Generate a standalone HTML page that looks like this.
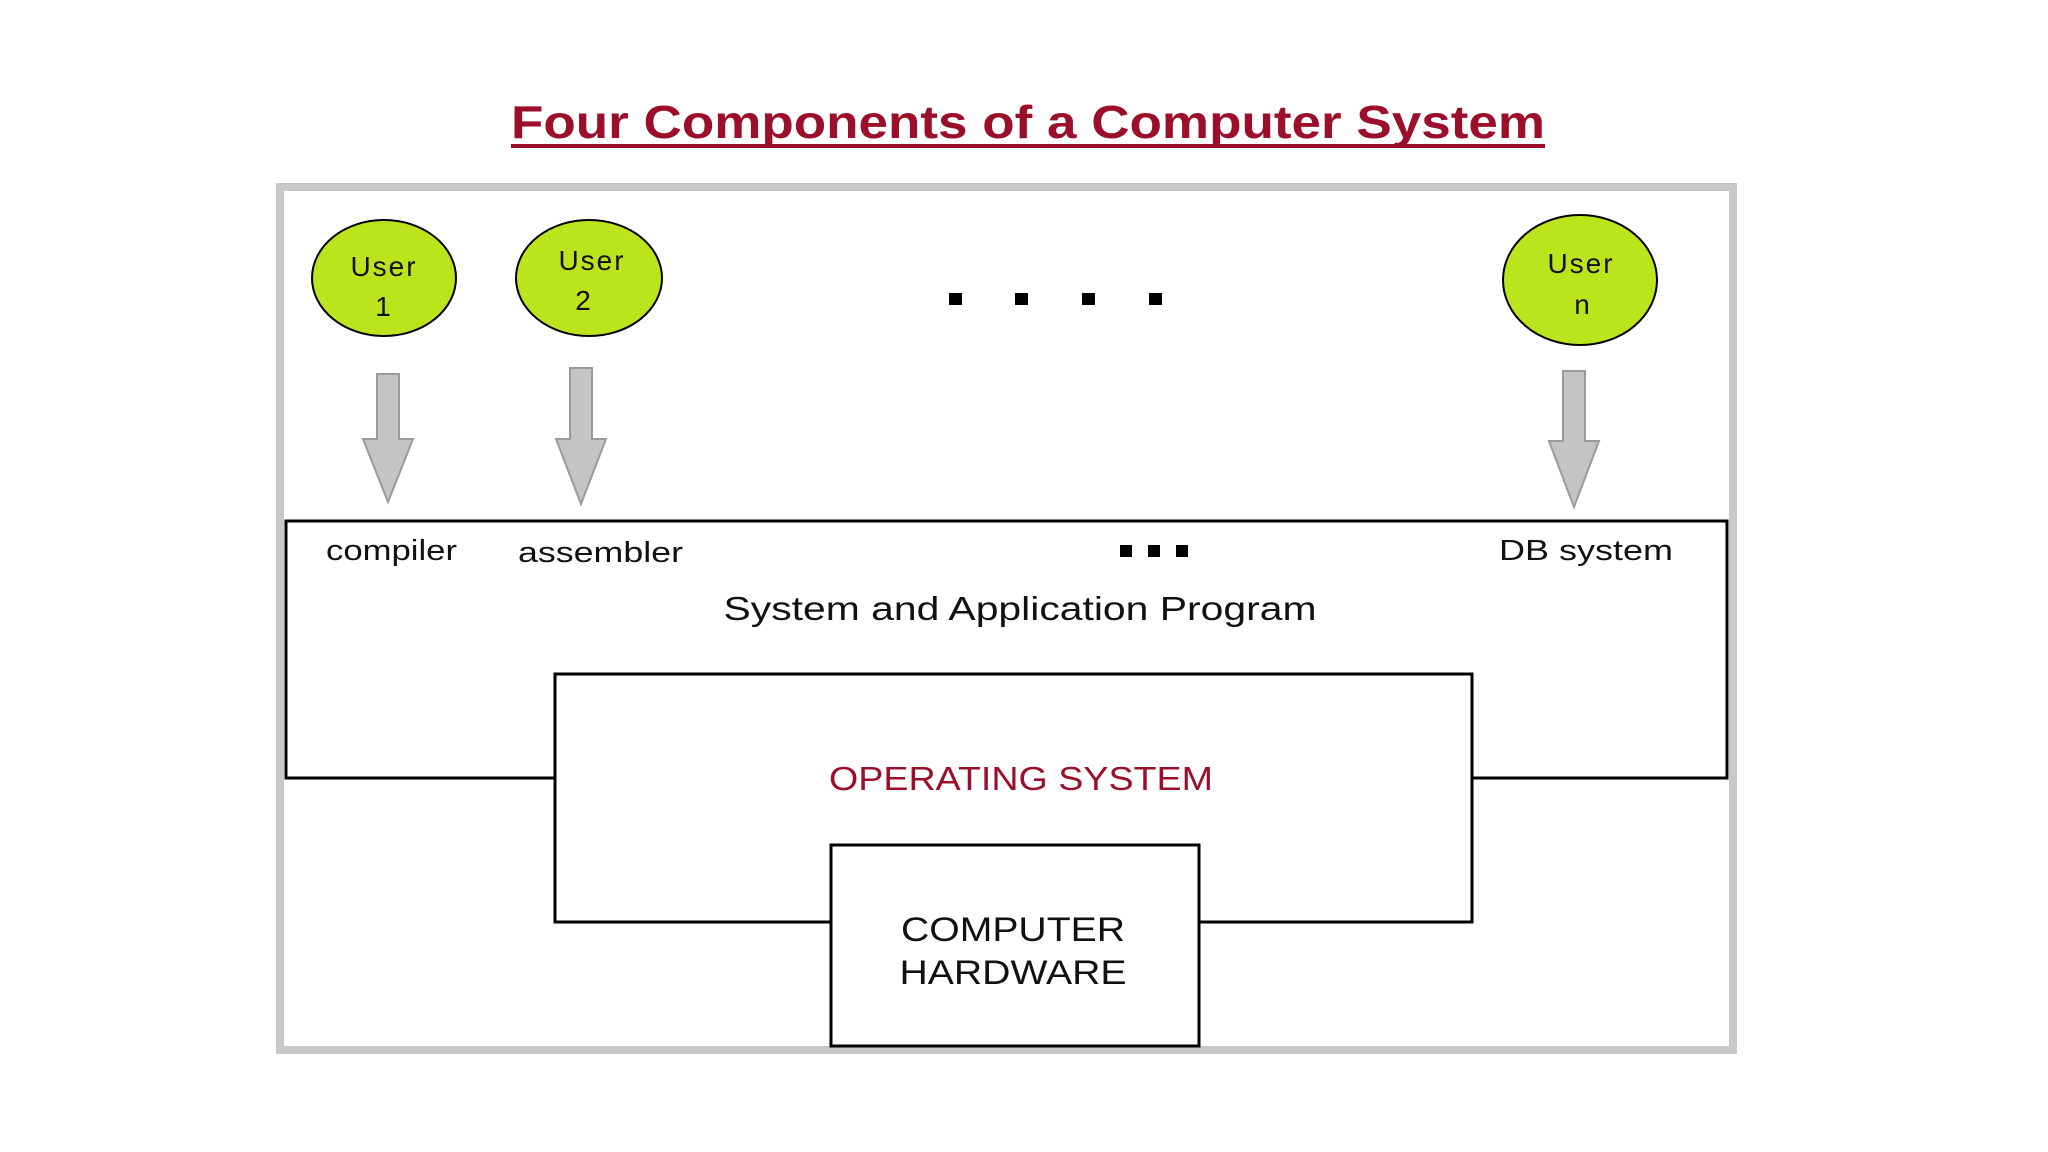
<!DOCTYPE html>
<html><head><meta charset="utf-8"><style>
html,body{margin:0;padding:0;background:#fff;}
svg{display:block;}
text{font-family:"Liberation Sans",Arial,sans-serif;}
</style></head><body>
<svg width="2048" height="1152" viewBox="0 0 2048 1152" xmlns="http://www.w3.org/2000/svg">
<rect width="2048" height="1152" fill="#fff"/>
<!-- title -->
<text x="1028" y="138" text-anchor="middle" font-size="46" font-weight="bold" fill="#9c0f2a" textLength="1034" lengthAdjust="spacingAndGlyphs">Four Components of a Computer System</text>
<rect x="511" y="144" width="1034" height="4" fill="#9c0f2a"/>
<!-- outer gray box -->
<rect x="280" y="187" width="1453" height="863" fill="#fff" stroke="#c8c8c8" stroke-width="8"/>
<!-- users -->
<g stroke="#000" stroke-width="2" fill="#bce41c">
<ellipse cx="384" cy="278" rx="72" ry="58"/>
<ellipse cx="589" cy="278" rx="73" ry="58"/>
<ellipse cx="1580" cy="280" rx="77" ry="65"/>
</g>
<g font-size="28" fill="#111" text-anchor="middle" letter-spacing="2">
<text x="384" y="276">User</text><text x="384" y="316">1</text>
<text x="592" y="270">User</text><text x="584" y="310">2</text>
<text x="1581" y="273">User</text><text x="1583" y="314">n</text>
</g>
<!-- dots -->
<g fill="#000">
<rect x="949" y="293" width="13" height="12"/>
<rect x="1015" y="293" width="13" height="12"/>
<rect x="1082" y="293" width="13" height="12"/>
<rect x="1149" y="293" width="13" height="12"/>
</g>
<!-- arrows -->
<g fill="#c4c4c4" stroke="#9a9a9a" stroke-width="2">
<polygon points="377,374 399,374 399,439 413,439 388,502 363,439 377,439"/>
<polygon points="570,368 592,368 592,439 606,439 581,504 556,439 570,439"/>
<polygon points="1563,371 1585,371 1585,441 1599,441 1574,507 1549,441 1563,441"/>
</g>
<!-- app box -->
<rect x="286" y="521" width="1441" height="257" fill="#fff" stroke="#000" stroke-width="3"/>
<g font-size="29" fill="#111">
<text x="326" y="560" textLength="131" lengthAdjust="spacingAndGlyphs">compiler</text>
<text x="518" y="562" textLength="165" lengthAdjust="spacingAndGlyphs">assembler</text>
<text x="1499" y="560" textLength="174" lengthAdjust="spacingAndGlyphs">DB system</text>
<text x="1020" y="620" text-anchor="middle" font-size="33" textLength="593" lengthAdjust="spacingAndGlyphs">System and Application Program</text>
</g>
<g fill="#000">
<rect x="1120" y="545" width="12" height="12"/>
<rect x="1148" y="545" width="12" height="12"/>
<rect x="1176" y="545" width="12" height="12"/>
</g>
<!-- OS box -->
<rect x="555" y="674" width="917" height="248" fill="#fff" stroke="#000" stroke-width="3"/>
<text x="1021" y="790" text-anchor="middle" font-size="33" fill="#9c0f2a" textLength="384" lengthAdjust="spacingAndGlyphs">OPERATING SYSTEM</text>
<!-- hardware box -->
<rect x="831" y="845" width="368" height="201" fill="#fff" stroke="#000" stroke-width="3"/>
<g font-size="34" fill="#111" text-anchor="middle">
<text x="1013" y="941" textLength="224" lengthAdjust="spacingAndGlyphs">COMPUTER</text>
<text x="1013" y="984" textLength="227" lengthAdjust="spacingAndGlyphs">HARDWARE</text>
</g>
</svg>
</body></html>
